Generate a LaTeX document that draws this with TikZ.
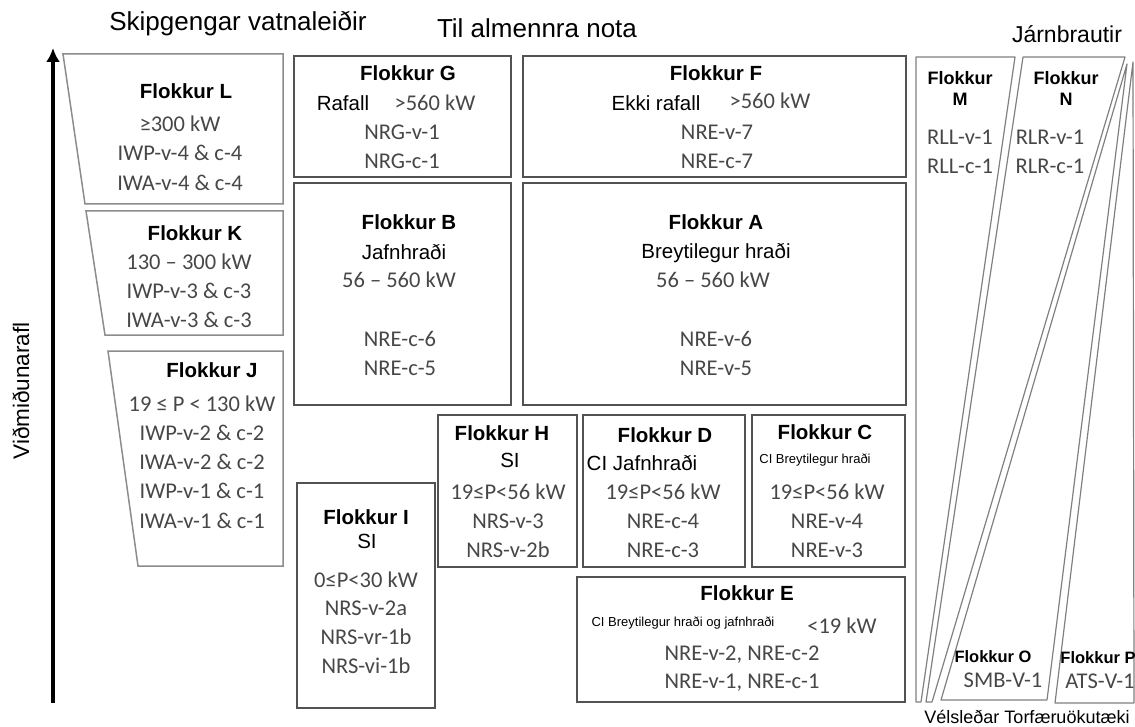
\documentclass[tikz,border=0pt]{standalone}
\usepackage{fontspec}
\setmainfont{Liberation Sans}
\newfontfamily\calfont{Carlito}
\usetikzlibrary{arrows.meta,fit}
\tikzset{
  flkBox/.style={draw=black!68, line width=1.8pt, inner sep=0pt},
  flkTrap/.style={draw=black!45, line width=1.5pt, line join=miter},
  flkRail/.style={draw=black!50, line width=1.2pt, line join=round},
  flkTitle/.style={font=\bfseries\fontsize{20.5}{23}\selectfont, inner sep=0pt},
  flkRailTitle/.style={font=\bfseries\fontsize{18}{21}\selectfont, inner sep=0pt, align=center},
  flkSmallTitle/.style={font=\bfseries\fontsize{16.5}{19}\selectfont, inner sep=0pt},
  flkCode/.style={font=\calfont\fontsize{22.5}{25}\selectfont, text=black!72, inner sep=0pt},
  flkNote/.style={font=\fontsize{20.5}{23}\selectfont, inner sep=0pt},
  flkSmall/.style={font=\fontsize{13}{15}\selectfont, inner sep=0pt},
  flkHead/.style={font=\fontsize{26}{29}\selectfont, inner sep=0pt},
  flkAxis/.style={-{Latex[length=14pt,width=14pt]}, line width=4pt}
}

\begin{document}
\begin{tikzpicture}[x=1pt, y=-1pt]
  \useasboundingbox (0,0) rectangle (1135,727);

  % headings and axis
  \node[flkHead] (headWater) at (238,24) {Skipgengar vatnaleiðir};
  \node[flkHead] (headGeneral) at (537,28) {Til almennra nota};
  \node[flkHead, font=\fontsize{23}{26}\selectfont] (headRail) at (1067,34) {Járnbrautir};
  \node[flkHead, font=\fontsize{18}{20}\selectfont] (footSnow) at (1027,717) {Vélsleðar Torfæruökutæki};
  \coordinate (axisFoot) at (53,703);
  \coordinate (axisTip) at (53,48);
  \draw[flkAxis] (axisFoot) -- (axisTip);
  \node[flkHead, font=\fontsize{22.5}{25}\selectfont, rotate=90] (axisLabel) at (21,391) {Viðmiðunarafl};

  % inland waterways
  \draw[flkTrap] (63,54) -- (283,54) -- (283,204) -- (85,204) -- cycle;
  \draw[flkTrap] (86,211) -- (283,211) -- (283,335) -- (105,335) -- cycle;
  \draw[flkTrap] (108,351) -- (283,351) -- (283,566) -- (138,566) -- cycle;
  \node[flkTitle] (titleL) at (186,91) {Flokkur L};
  \foreach \txt [count=\k] in {≥300 kW,IWP-v-4 \& c-4,IWA-v-4 \& c-4}
    \node[flkCode] (codeL\k) at (180,94+29.5*\k) {\txt};
  \node[flkTitle] (titleK) at (195,233) {Flokkur K};
  \foreach \txt [count=\k] in {130 – 300 kW,IWP-v-3 \& c-3,IWA-v-3 \& c-3}
    \node[flkCode] (codeK\k) at (189,233+29*\k) {\txt};
  \node[flkTitle] (titleJ) at (212,370) {Flokkur J};
  \foreach \txt [count=\k] in {19 ≤ P < 130 kW,IWP-v-2 \& c-2,IWA-v-2 \& c-2,IWP-v-1 \& c-1,IWA-v-1 \& c-1}
    \node[flkCode] (codeJ\k) at (202,374+29.3*\k) {\txt};

  % general purpose boxes
  \node[flkBox, fit={(294,56)(511,177)}] (boxG) {};
  \node[flkBox, fit={(294,183)(511,405)}] (boxB) {};
  \node[flkBox, fit={(523,56)(906,177)}] (boxF) {};
  \node[flkBox, fit={(523,183)(906,405)}] (boxA) {};
  \node[flkBox, fit={(438,415)(577,567)}] (boxH) {};
  \node[flkBox, fit={(297,483)(435,708)}] (boxI) {};
  \node[flkBox, fit={(583,415)(745,567)}] (boxD) {};
  \node[flkBox, fit={(752,415)(905,567)}] (boxC) {};
  \node[flkBox, fit={(577,577)(905,702)}] (boxE) {};

  \node[flkTitle] (titleG) at (408,73) {Flokkur G};
  \node[flkNote] (noteG) at (343,103) {Rafall};
  \node[flkCode] (powerG) at (435,103) {>560 kW};
  \foreach \txt [count=\k] in {NRG-v-1,NRG-c-1}
    \node[flkCode] (codeG\k) at (402,103+29*\k) {\txt};

  \node[flkTitle] (titleF) at (716,73) {Flokkur F};
  \node[flkNote] (noteF) at (656,103) {Ekki rafall};
  \node[flkCode] (powerF) at (770,101) {>560 kW};
  \foreach \txt [count=\k] in {NRE-v-7,NRE-c-7}
    \node[flkCode] (codeF\k) at (717,103+29*\k) {\txt};

  \node[flkTitle] (titleB) at (409,222) {Flokkur B};
  \node[flkNote] (noteB) at (404,252) {Jafnhraði};
  \node[flkCode] (powerB) at (399,280) {56 – 560 kW};
  \foreach \txt [count=\k] in {NRE-c-6,NRE-c-5}
    \node[flkCode] (codeB\k) at (400,310+29*\k) {\txt};

  \node[flkTitle] (titleA) at (716,222) {Flokkur A};
  \node[flkNote] (noteA) at (716,253) {Breytilegur hraði};
  \node[flkCode] (powerA) at (713,280) {56 – 560 kW};
  \foreach \txt [count=\k] in {NRE-v-6,NRE-v-5}
    \node[flkCode] (codeA\k) at (716,310+29*\k) {\txt};

  \node[flkTitle] (titleH) at (502,433) {Flokkur H};
  \node[flkNote] (noteH) at (510,460) {SI};
  \foreach \txt [count=\k] in {19≤P<56 kW,NRS-v-3,NRS-v-2b}
    \node[flkCode] (codeH\k) at (508,463+29*\k) {\txt};

  \node[flkTitle] (titleI) at (366,517) {Flokkur I};
  \node[flkNote] (noteI) at (367,541) {SI};
  \foreach \txt [count=\k] in {0≤P<30 kW,NRS-v-2a,NRS-vr-1b,NRS-vi-1b}
    \node[flkCode] (codeI\k) at (366,551+28.7*\k) {\txt};

  \node[flkTitle] (titleD) at (665,435) {Flokkur D};
  \node[flkNote] (noteD) at (642,463) {CI Jafnhraði};
  \foreach \txt [count=\k] in {19≤P<56 kW,NRE-c-4,NRE-c-3}
    \node[flkCode] (codeD\k) at (663,463+29*\k) {\txt};

  \node[flkTitle] (titleC) at (825,432) {Flokkur C};
  \node[flkSmall] (noteC) at (815,460) {CI Breytilegur hraði};
  \foreach \txt [count=\k] in {19≤P<56 kW,NRE-v-4,NRE-v-3}
    \node[flkCode] (codeC\k) at (827,463+29*\k) {\txt};

  \node[flkTitle] (titleE) at (747,593) {Flokkur E};
  \node[flkSmall] (noteE) at (683,623) {CI Breytilegur hraði og jafnhraði};
  \node[flkCode] (powerE) at (842,626) {<19 kW};
  \foreach \txt [count=\k] in {{NRE-v-2, NRE-c-2},{NRE-v-1, NRE-c-1}}
    \node[flkCode] (codeE\k) at (742,627+28*\k) {\txt};

  % railways, snowmobiles, ATVs
  \draw[flkRail] (916,57) -- (1015,57) -- (921,702) -- (916,702) -- cycle;
  \draw[flkRail] (1023,57) -- (1125,57) -- (932,702) -- (926,702) -- cycle;
  \draw[flkRail] (941,700) -- (1047,700) -- (1127,64) -- cycle;
  \draw[flkRail] (1055,703) -- (1134,703) -- (1133,62) -- cycle;

  \node[flkRailTitle] (titleM) at (960,88) {Flokkur\\M};
  \foreach \txt [count=\k] in {RLL-v-1,RLL-c-1}
    \node[flkCode] (codeM\k) at (960,108+29*\k) {\txt};
  \node[flkRailTitle] (titleN) at (1066,88) {Flokkur\\N};
  \foreach \txt [count=\k] in {RLR-v-1,RLR-c-1}
    \node[flkCode] (codeN\k) at (1050,108+29*\k) {\txt};
  \node[flkSmallTitle] (titleO) at (993,657) {Flokkur O};
  \node[flkCode] (codeO) at (1003,680) {SMB-V-1};
  \node[flkSmallTitle] (titleP) at (1098,658) {Flokkur P};
  \node[flkCode] (codeP) at (1100,681) {ATS-V-1};
\end{tikzpicture}
\end{document}
